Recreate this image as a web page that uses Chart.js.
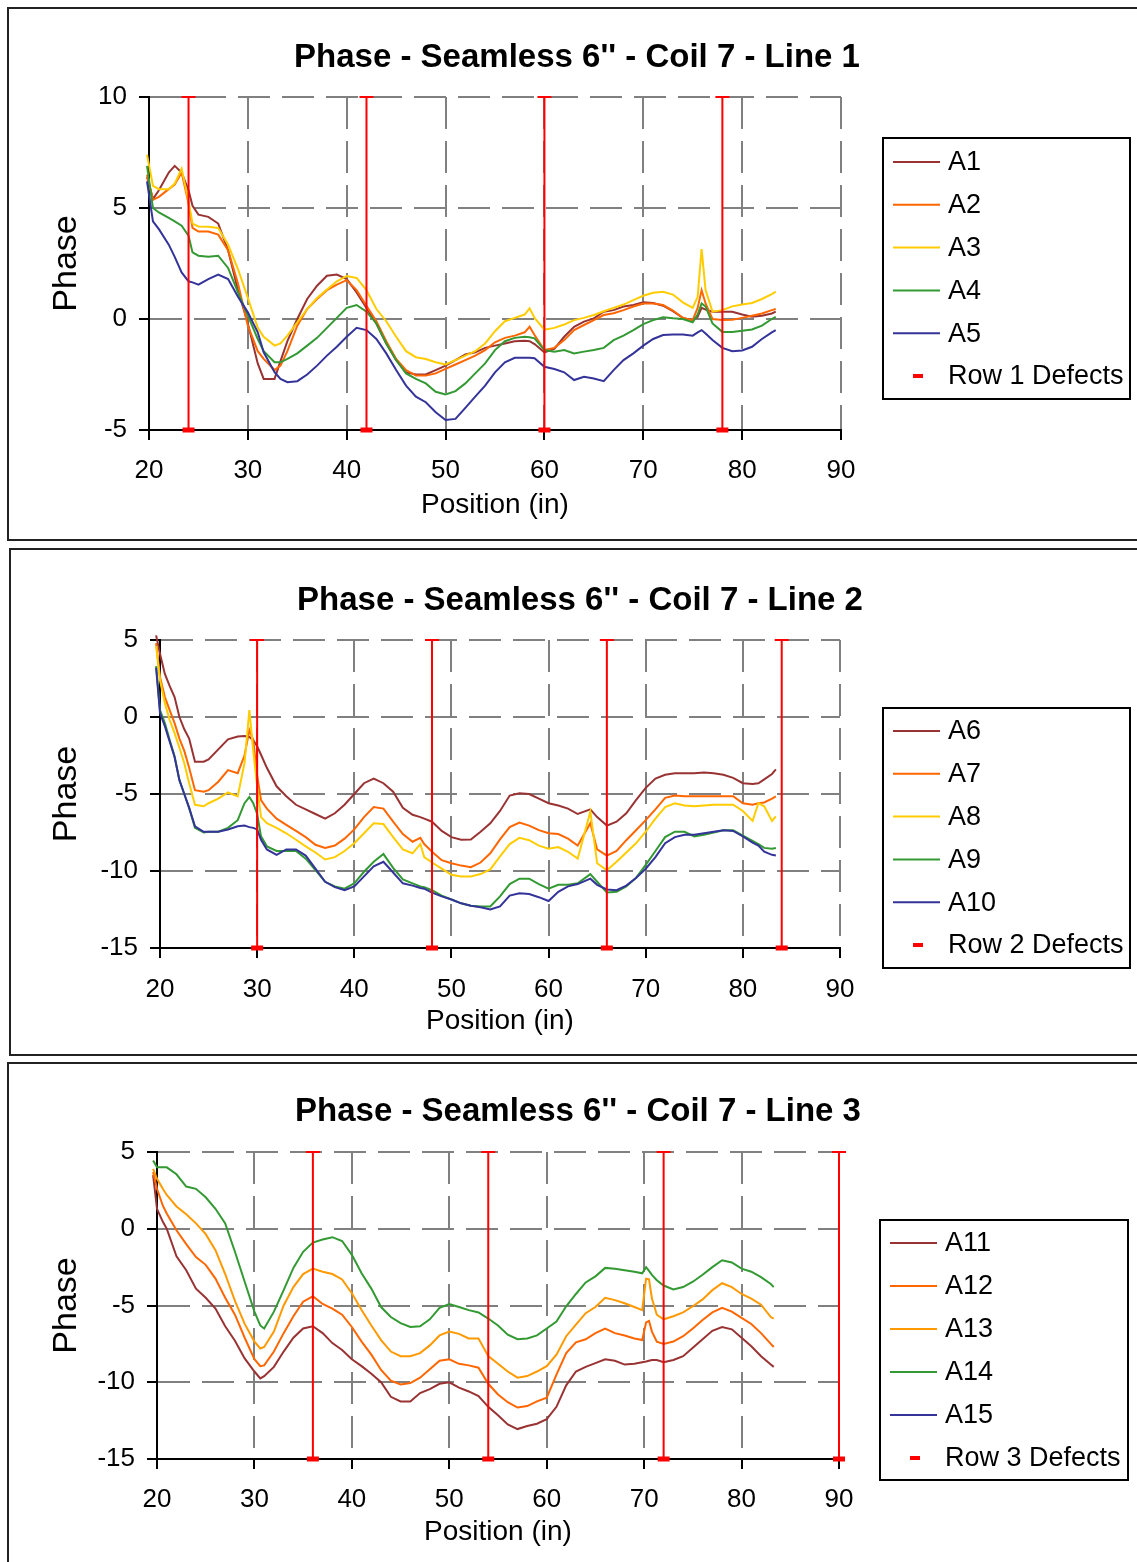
<!DOCTYPE html>
<html>
<head>
<meta charset="utf-8">
<script src="https://cdn.jsdelivr.net/npm/chart.js@4.4.1/dist/chart.umd.min.js"></script>
<style>
  html, body { margin: 0; padding: 0; background: #fff; overflow: hidden; }
  body { width: 1137px; height: 1562px; position: relative; }
  .panel { position: absolute; border: 2px solid #222; box-sizing: border-box; }
  canvas { position: absolute; left: 10px; }
</style>
</head>
<body>
<div class="panel" style="left:7px;top:7px;width:1140px;height:534px"></div>
<div class="panel" style="left:9px;top:548px;width:1140px;height:508px"></div>
<div class="panel" style="left:7px;top:1062px;width:1140px;height:540px"></div>
<canvas id="line1" width="1127" height="526" style="top:10px"></canvas>
<canvas id="line2" width="1127" height="500" style="top:552px"></canvas>
<canvas id="line3" width="1127" height="496" style="top:1066px"></canvas>
<script>
// tick labels
const xTicks = [20, 30, 40, 50, 60, 70, 80, 90];
const yTicksLine1 = [-5, 0, 5, 10];
const yTicksLine23 = [-15, -10, -5, 0, 5];

// Line 1 : position (in) and phase for A1..A5
const posLine1 = [19.8, 20.4, 21, 22, 22.6, 23.3, 24, 24.4, 25, 26, 27, 28, 29, 30, 31, 31.6, 32.7, 33.3,
  34, 35, 36, 37, 38, 39, 40, 41, 42, 43, 44, 45, 46, 47, 48, 49, 50, 51, 52, 53, 54, 55, 56, 57, 58, 58.5,
  59, 60, 61, 62, 63, 64, 65, 66, 67, 68, 69, 70, 71, 72, 73, 74, 75, 75.5, 75.9, 76.3,
  77, 78, 79, 80, 81, 82, 83, 83.4];
const a1 = [6.4, 5.4, 5.8, 6.6, 6.9, 6.6, 5.8, 5.1, 4.7, 4.6, 4.3, 3.1, 1.3, -0.2, -2.0, -2.7, -2.7, -1.9,
  -1.0, 0.0, 0.9, 1.5, 1.95, 2.0, 1.8, 1.2, 0.5, -0.2, -1.1, -1.85, -2.4, -2.5, -2.5, -2.3, -2.1, -1.85, -1.6, -1.5, -1.3, -1.2, -1.1, -1.0, -0.98, -1.0,
  -1.13, -1.5, -1.35, -0.8, -0.35, -0.12, 0.03, 0.33, 0.4, 0.56, 0.63, 0.75, 0.72, 0.6, 0.35, 0.05, -0.05, 0.1, 0.5, 0.42,
  0.33, 0.33, 0.33, 0.2, 0.1, 0.15, 0.25, 0.33];
const a2 = [6.5, 5.37, 5.5, 5.85, 6.05, 6.6, 5.2, 4.1, 3.94, 3.94, 3.8, 3.1, 1.6, -0.3, -1.45, -1.8, -2.3, -2.1,
  -1.45, -0.3, 0.45, 0.9, 1.3, 1.55, 1.75, 1.3, 0.6, -0.1, -1.0, -1.8, -2.3, -2.55, -2.55, -2.45, -2.25, -2.05, -1.85, -1.65, -1.4, -1.05, -0.85, -0.75, -0.6, -0.35,
  -0.72, -1.4, -1.3, -0.95, -0.5, -0.27, -0.05, 0.18, 0.26, 0.4, 0.56, 0.7, 0.7, 0.63, 0.38, 0.05, -0.05, 0.5, 1.3, 0.7,
  0.0, -0.05, -0.03, 0.05, 0.15, 0.25, 0.4, 0.45];
const a3 = [7.4, 6.0, 5.85, 5.85, 6.1, 6.77, 5.3, 4.3, 4.17, 4.15, 4.1, 3.35, 2.25, 0.95, -0.4, -0.8, -1.2, -1.1,
  -0.75, -0.15, 0.45, 0.95, 1.33, 1.7, 1.94, 1.85, 1.3, 0.45, -0.1, -0.8, -1.45, -1.72, -1.8, -1.95, -2.05, -1.85, -1.65, -1.45, -1.1, -0.55, -0.1, 0.05, 0.2, 0.48,
  0.05, -0.48, -0.4, -0.25, -0.05, 0.05, 0.18, 0.35, 0.5, 0.65, 0.85, 1.05, 1.18, 1.23, 1.1, 0.75, 0.5, 1.0, 3.15, 1.3,
  0.33, 0.4, 0.57, 0.65, 0.72, 0.9, 1.12, 1.23];
const a4 = [6.9, 5.0, 4.8, 4.55, 4.4, 4.2, 3.75, 3.0, 2.85, 2.8, 2.85, 2.3, 1.2, 0.15, -0.9, -1.45, -1.95, -1.95,
  -1.8, -1.55, -1.2, -0.85, -0.4, 0.05, 0.5, 0.63, 0.33, -0.2, -1.1, -1.85, -2.45, -2.7, -2.9, -3.28, -3.4, -3.25, -2.9, -2.45, -2.0, -1.4, -1.0, -0.85, -0.8, -0.82,
  -0.87, -1.4, -1.47, -1.4, -1.55, -1.47, -1.4, -1.3, -0.95, -0.75, -0.5, -0.23, -0.05, 0.08, 0.03, 0.0, -0.15, 0.2, 0.7, 0.56,
  -0.2, -0.58, -0.58, -0.53, -0.47, -0.3, 0.0, 0.1];
const a5 = [6.2, 4.4, 4.05, 3.35, 2.8, 2.1, 1.7, 1.65, 1.55, 1.8, 2.0, 1.8, 1.0, 0.3, -0.6, -1.5, -2.4, -2.7,
  -2.85, -2.8, -2.5, -2.1, -1.65, -1.25, -0.8, -0.4, -0.5, -0.9, -1.55, -2.3, -3.0, -3.5, -3.75, -4.2, -4.55, -4.5, -4.0, -3.5, -3.0, -2.4, -1.95, -1.75, -1.75, -1.75,
  -1.77, -2.15, -2.25, -2.4, -2.75, -2.6, -2.68, -2.8, -2.3, -1.85, -1.55, -1.2, -0.9, -0.72, -0.7, -0.7, -0.75, -0.6, -0.5, -0.65,
  -0.95, -1.3, -1.45, -1.42, -1.25, -0.9, -0.6, -0.5];

// Line 2 : A6..A10
const posLine2 = [19.6, 20, 20.5, 21, 21.5, 22, 22.5, 23, 23.6, 24.5, 25, 26, 27, 28, 28.7, 29.2, 29.6, 30, 30.4,
  31, 32, 33, 34, 35, 36, 37, 38, 39, 40, 41, 42, 43, 44, 45, 46, 46.8, 47.2,
  48, 49, 50, 51, 52, 53, 54, 55, 56, 57, 58, 59, 60, 61, 62, 63, 64.3,
  65, 66, 67, 68, 69, 70, 71, 72, 73, 74, 75, 76, 77, 78, 79, 80, 81, 81.6, 82.2, 83, 83.4];
const a6 = [5.3, 4.1, 2.8, 2.0, 1.3, 0.0, -0.8, -1.4, -2.9, -2.9, -2.75, -2.1, -1.45, -1.27, -1.23, -1.3, -1.5, -1.9, -2.45,
  -3.3, -4.5, -5.15, -5.7, -6.0, -6.3, -6.6, -6.25, -5.7, -5.0, -4.3, -4.0, -4.3, -4.85, -5.9, -6.35, -6.5, -6.6,
  -6.8, -7.4, -7.8, -7.97, -7.95, -7.45, -6.9, -6.1, -5.1, -4.95, -5.0, -5.3, -5.6, -5.75, -5.95, -6.3, -6.0,
  -6.5, -7.05, -6.8, -6.25, -5.4, -4.6, -4.0, -3.75, -3.65, -3.65, -3.65, -3.6, -3.65, -3.75, -3.95, -4.3, -4.35, -4.3, -4.05, -3.7, -3.4];
const a7 = [4.8, 2.6, 1.3, 0.45, -0.4, -1.4, -2.2, -3.3, -4.75, -4.85, -4.75, -4.2, -3.45, -3.65, -2.5, -0.85, -1.5, -3.8, -5.4,
  -5.95, -6.6, -7.0, -7.4, -7.8, -8.3, -8.5, -8.35, -7.9, -7.3, -6.5, -5.85, -5.95, -6.8, -7.6, -8.1, -7.85, -8.25,
  -8.75, -9.3, -9.5, -9.65, -9.75, -9.45, -8.85, -7.95, -7.15, -6.85, -7.05, -7.35, -7.55, -7.6, -7.9, -8.35, -6.9,
  -8.6, -9.0, -8.7, -8.0, -7.35, -6.7, -6.0, -5.25, -5.1, -5.15, -5.15, -5.15, -5.15, -5.15, -5.15, -5.6, -5.7, -5.6, -5.55, -5.3, -5.15];
const a8 = [4.6, 2.4, 0.9, -0.2, -1.05, -2.0, -3.0, -4.3, -5.7, -5.8, -5.6, -5.3, -4.9, -5.15, -3.0, 0.45, -2.2, -4.5, -6.5,
  -6.9, -7.2, -7.55, -7.97, -8.4, -8.8, -9.25, -9.1, -8.7, -8.2, -7.55, -6.9, -6.95, -7.8, -8.6, -8.85, -8.25, -9.1,
  -9.45, -9.85, -10.25, -10.35, -10.35, -10.2, -9.9, -9.05, -8.25, -7.85, -8.0, -8.35, -8.55, -8.45, -8.75, -9.2, -6.15,
  -9.5, -9.95, -9.4, -8.8, -8.2, -7.45, -6.6, -5.85, -5.6, -5.75, -5.8, -5.75, -5.7, -5.7, -5.7, -6.1, -6.75, -5.6, -5.8, -6.75, -6.45];
const a9 = [3.3, 0.45, -0.4, -1.5, -2.55, -4.1, -5.0, -5.9, -7.2, -7.5, -7.45, -7.45, -7.2, -6.7, -5.6, -5.2, -5.6, -6.3, -7.75,
  -8.4, -8.7, -8.7, -8.7, -9.2, -9.95, -10.7, -11.0, -11.15, -10.8, -10.05, -9.4, -8.9, -9.8, -10.55, -10.8, -11.0, -11.05,
  -11.25, -11.6, -11.85, -12.1, -12.25, -12.3, -12.3, -11.65, -10.85, -10.5, -10.5, -10.85, -11.15, -10.9, -10.9, -10.8, -10.2,
  -10.7, -11.4, -11.35, -11.0, -10.45, -9.6, -8.7, -7.8, -7.45, -7.45, -7.75, -7.65, -7.5, -7.35, -7.35, -7.7, -8.05, -8.25, -8.5, -8.55, -8.5];
const a10 = [3.2, 0.25, -0.6, -1.6, -2.6, -4.1, -5.0, -5.9, -7.1, -7.45, -7.45, -7.45, -7.3, -7.1, -7.05, -7.15, -7.2, -7.3, -7.97,
  -8.6, -8.95, -8.6, -8.6, -9.0, -9.85, -10.7, -11.05, -11.25, -11.0, -10.35, -9.7, -9.4, -10.1, -10.8, -10.95, -11.1, -11.15,
  -11.4, -11.65, -11.85, -12.1, -12.25, -12.35, -12.5, -12.3, -11.6, -11.45, -11.5, -11.7, -11.95, -11.35, -11.0, -10.85, -10.5,
  -10.9, -11.2, -11.25, -10.95, -10.45, -9.85, -9.1, -8.2, -7.8, -7.65, -7.65, -7.55, -7.45, -7.35, -7.4, -7.75, -8.15, -8.35, -8.75, -8.95, -9.0];

// Line 3 : A11..A15 (A15 has no trace)
const posLine3 = [19.6, 20, 20.6, 21, 22, 23, 24, 25, 26, 27, 28, 29, 30, 30.6,
  31, 32, 33, 34, 35, 36, 37, 38, 39, 40, 41, 42, 43, 44, 45, 46, 47, 48, 49, 50,
  51, 52, 53, 54, 55, 56, 57, 58, 59, 60, 61, 62, 63, 64, 65, 66, 67, 68, 69,
  69.8, 70.2, 70.5, 70.8, 71.3, 72, 73, 74, 75, 76, 77, 78, 79, 80, 81, 82, 83, 83.3];
const a11 = [3.5, 1.3, 0.45, 0.0, -1.8, -2.7, -3.9, -4.5, -5.2, -6.35, -7.3, -8.45, -9.3, -9.75,
  -9.6, -9.0, -8.0, -7.1, -6.5, -6.35, -6.8, -7.45, -7.9, -8.5, -8.95, -9.45, -10.0, -10.95, -11.25, -11.25, -10.7, -10.45, -10.1, -10.0,
  -10.35, -10.6, -10.9, -11.6, -12.15, -12.75, -13.05, -12.85, -12.7, -12.4, -11.6, -10.2, -9.3, -9.0, -8.75, -8.5, -8.6, -8.85, -8.8,
  -8.7, -8.65, -8.6, -8.55, -8.55, -8.7, -8.55, -8.3, -7.75, -7.2, -6.65, -6.4, -6.55, -7.1, -7.65, -8.3, -8.85, -9.0];
const a12 = [3.7, 2.6, 1.5, 1.0, -0.1, -1.0, -1.85, -2.35, -3.25, -4.5, -5.6, -7.1, -8.5, -8.95,
  -8.9, -8.0, -6.8, -5.7, -4.75, -4.4, -4.9, -5.2, -5.6, -6.4, -7.35, -8.2, -9.2, -9.9, -10.15, -10.05, -9.7, -9.15, -8.6, -8.5,
  -8.8, -8.9, -9.05, -10.1, -10.8, -11.3, -11.65, -11.55, -11.25, -11.0, -9.5, -8.1, -7.4, -7.2, -6.8, -6.5, -6.8, -6.95, -7.15,
  -7.25, -6.1, -6.0, -6.7, -7.35, -7.5, -7.35, -7.0, -6.5, -5.95, -5.45, -5.15, -5.4, -5.8, -6.2, -6.8, -7.5, -7.7];
const a13 = [3.9, 3.25, 2.6, 2.2, 1.45, 0.95, 0.35, -0.35, -1.4, -2.95, -4.7, -6.2, -7.35, -7.8,
  -7.7, -6.7, -5.0, -3.8, -2.95, -2.6, -2.8, -2.95, -3.3, -4.2, -5.3, -6.3, -7.25, -8.0, -8.3, -8.3, -8.1, -7.6, -6.95, -6.7,
  -6.85, -7.15, -7.15, -8.3, -8.8, -9.3, -9.7, -9.6, -9.3, -8.95, -8.2, -7.0, -6.25, -5.5, -5.1, -4.5, -4.65, -4.85, -5.1,
  -5.3, -3.25, -3.3, -4.55, -5.6, -5.9, -5.7, -5.45, -5.05, -4.6, -4.0, -3.55, -3.8, -4.25, -4.55, -4.95, -5.75, -5.85];
const a14 = [4.45, 4.0, 4.0, 4.0, 3.55, 2.75, 2.6, 2.05, 1.3, 0.35, -1.5, -3.45, -5.4, -6.3,
  -6.5, -5.4, -4.0, -2.55, -1.5, -0.9, -0.7, -0.55, -0.8, -1.7, -2.9, -3.9, -5.1, -5.75, -6.15, -6.4, -6.35, -5.9, -5.15, -4.9,
  -5.1, -5.3, -5.45, -5.85, -6.3, -6.9, -7.2, -7.15, -6.95, -6.5, -6.05, -5.05, -4.25, -3.5, -3.1, -2.55, -2.6, -2.7, -2.8,
  -2.9, -2.5, -2.75, -3.0, -3.35, -3.7, -3.95, -3.8, -3.45, -3.0, -2.5, -2.05, -2.2, -2.6, -2.8, -3.15, -3.6, -3.8];
const a15 = [];

// defect positions (in)
const defectsRow1 = [24, 42, 60, 78];
const defectsRow2 = [30, 48, 66, 84];
const defectsRow3 = [36, 54, 72, 90];

const FONT = '"Liberation Sans", Arial, Helvetica, sans-serif';
Chart.defaults.font.family = FONT;
Chart.defaults.color = '#000';

// title + framed legend, drawn on top of the chart
const chrome = {
  id: 'chrome',
  afterDraw(chart, args, o) {
    const ctx = chart.ctx;
    ctx.save();
    ctx.fillStyle = '#000';
    ctx.font = 'bold 33px ' + FONT;
    ctx.textAlign = 'center';
    ctx.textBaseline = 'middle';
    ctx.fillText(o.title, o.titleX, o.titleY);

    const b = o.box;
    ctx.strokeStyle = '#000';
    ctx.lineWidth = 2;
    ctx.strokeRect(b.x, b.y, b.w, b.h);
    ctx.font = '27px ' + FONT;
    ctx.textAlign = 'left';
    chart.data.datasets.forEach((ds, i) => {
      const y = b.y + b.first + i * b.step;
      if (ds.defects) {
        ctx.fillStyle = ds.borderColor;
        ctx.fillRect(b.x + 30, y - 2, 10, 4);
      } else {
        ctx.strokeStyle = ds.borderColor;
        ctx.lineWidth = 2;
        ctx.beginPath();
        ctx.moveTo(b.x + 10, y);
        ctx.lineTo(b.x + 57, y);
        ctx.stroke();
      }
      ctx.fillStyle = '#000';
      ctx.fillText(ds.label, b.x + 65, y + 1);
    });
    ctx.restore();
  }
};

function makeChart(id, c) {
  const datasets = c.series.map((s, i) => ({
    label: s.label,
    data: s.values.map((y, j) => ({x: c.pos[j], y})),
    borderColor: s.color,
    borderWidth: 2,
    pointRadius: 0,
    tension: 0,
    clip: false,
    order: c.series.length - i
  }));
  const bars = [];
  c.defects.forEach(x => {
    bars.push({x, y: c.yTicks[0]}, {x, y: c.yTicks[c.yTicks.length - 1]}, {x, y: null});
  });
  datasets.push({
    label: c.defectLabel,
    defects: true,
    data: bars,
    borderColor: '#FF0000',
    borderWidth: 2,
    pointStyle: 'line',
    pointBorderColor: '#FF0000',
    pointRadius: ctx => (ctx.raw && ctx.raw.y === c.yTicks[0] ? 6 : 7),
    pointBorderWidth: ctx => (ctx.raw && ctx.raw.y === c.yTicks[0] ? 5 : 2),
    spanGaps: false,
    clip: false,
    order: 0
  });

  const L = c.layout;
  new Chart(document.getElementById(id), {
    type: 'line',
    data: {datasets},
    plugins: [chrome],
    options: {
      responsive: false,
      animation: false,
      events: [],
      layout: {padding: {left: 0, top: L.padTop, right: L.padRight, bottom: 0}},
      plugins: {
        legend: {display: false},
        tooltip: {enabled: false},
        chrome: {title: c.title, titleX: L.titleX, titleY: L.titleY, box: L.box}
      },
      scales: {
        x: {
          type: 'linear',
          min: xTicks[0],
          max: xTicks[xTicks.length - 1],
          afterBuildTicks: s => { s.ticks = xTicks.map(v => ({value: v})); },
          afterFit: s => { s.height = L.xAxisH; },
          grid: {color: '#808080', lineWidth: 2, tickLength: 10, tickColor: '#000', tickWidth: 2},
          border: {color: '#000', width: 2, dash: [32, 12]},
          ticks: {color: '#000', font: {size: 26}, padding: L.xTickPad, maxRotation: 0, autoSkip: false},
          title: {display: true, text: 'Position (in)', color: '#000', font: {size: 28}, padding: {top: 0, bottom: L.xTitlePad}}
        },
        y: {
          type: 'linear',
          min: c.yTicks[0],
          max: c.yTicks[c.yTicks.length - 1],
          afterBuildTicks: s => { s.ticks = c.yTicks.map(v => ({value: v})); },
          afterFit: s => { s.width = L.yAxisW; },
          grid: {color: '#808080', lineWidth: 2, tickLength: 10, tickColor: '#000', tickWidth: 2},
          border: {color: '#000', width: 2, dash: [32, 12]},
          ticks: {color: '#000', font: {size: 26}, padding: 12},
          title: {display: true, text: 'Phase', color: '#000', font: {size: 34}, padding: {top: 36, bottom: 0}}
        }
      }
    }
  });
}

const orange = '#FF6600', darkRed = '#993333', yellow = '#FFCC00', green = '#339933', navy = '#333399';

makeChart('line1', {
  title: "Phase - Seamless 6'' - Coil 7 - Line 1",
  pos: posLine1,
  yTicks: yTicksLine1,
  defects: defectsRow1,
  defectLabel: 'Row 1 Defects',
  series: [
    {label: 'A1', values: a1, color: darkRed},
    {label: 'A2', values: a2, color: orange},
    {label: 'A3', values: a3, color: yellow},
    {label: 'A4', values: a4, color: green},
    {label: 'A5', values: a5, color: navy}
  ],
  layout: {padTop: 87, padRight: 296, xAxisH: 106, yAxisW: 139, xTickPad: 15, xTitlePad: 14,
    titleX: 567, titleY: 48, box: {x: 873, y: 128, w: 247, h: 261, first: 24, step: 42.8}}
});

makeChart('line2', {
  title: "Phase - Seamless 6'' - Coil 7 - Line 2",
  pos: posLine2,
  yTicks: yTicksLine23,
  defects: defectsRow2,
  defectLabel: 'Row 2 Defects',
  series: [
    {label: 'A6', values: a6, color: darkRed},
    {label: 'A7', values: a7, color: orange},
    {label: 'A8', values: a8, color: yellow},
    {label: 'A9', values: a9, color: green},
    {label: 'A10', values: a10, color: navy}
  ],
  layout: {padTop: 88, padRight: 297, xAxisH: 104, yAxisW: 150, xTickPad: 16, xTitlePad: 14,
    titleX: 570, titleY: 49, box: {x: 873, y: 156, w: 247, h: 260, first: 23, step: 42.8}}
});

makeChart('line3', {
  title: "Phase - Seamless 6'' - Coil 7 - Line 3",
  pos: posLine3,
  yTicks: yTicksLine23,
  defects: defectsRow3,
  defectLabel: 'Row 3 Defects',
  series: [
    {label: 'A11', values: a11, color: darkRed},
    {label: 'A12', values: a12, color: orange},
    {label: 'A13', values: a13, color: '#FF9900'},
    {label: 'A14', values: a14, color: green},
    {label: 'A15', values: a15, color: navy}
  ],
  layout: {padTop: 86, padRight: 298, xAxisH: 103, yAxisW: 147, xTickPad: 15, xTitlePad: 13,
    titleX: 568, titleY: 46, box: {x: 870, y: 154, w: 248, h: 260, first: 23, step: 43}}
});
</script>
</body>
</html>
